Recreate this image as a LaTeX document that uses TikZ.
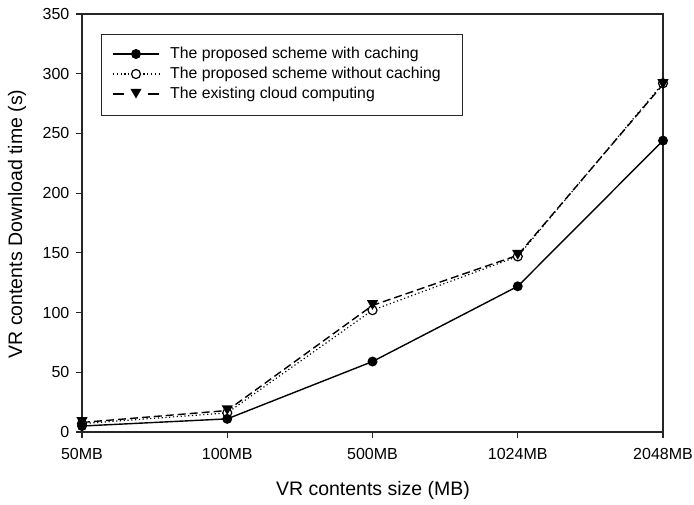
\documentclass[tikz,border=0pt]{standalone}
\usepackage{fontspec}
\setmainfont{Liberation Sans}
\usetikzlibrary{shapes.geometric}
\begin{document}
\begin{tikzpicture}[x=1pt,y=-1pt,
  frame/.style={draw=black!85,line width=1.1pt},
  tick/.style={draw=black!85,line width=1.1pt},
  ticklab/.style={font=\fontsize{16}{16}\selectfont,inner sep=0pt},
  axlab/.style={font=\fontsize{19.5}{19.5}\selectfont,inner sep=0pt},
  leglab/.style={font=\fontsize{15.8}{15.8}\selectfont,inner sep=0pt,anchor=west},
  solidser/.style={line width=1.4pt},
  dotser/.style={line width=1.2pt,dash pattern=on 1.2pt off 2.6pt},
  dashser/.style={line width=1.4pt,dash pattern=on 8pt off 4pt},
  fcirc/.style={circle,fill=black,minimum size=10pt,inner sep=0pt},
  ocirc/.style={circle,draw=black,fill=white,line width=1.2pt,minimum size=9pt,inner sep=0pt},
  dtri/.style={regular polygon,regular polygon sides=3,shape border rotate=180,fill=black,minimum size=13pt,inner sep=0pt},
]
\useasboundingbox (0,0) rectangle (694,504);
% value scale: pixels per second of download time
\def\yv#1{432-1.1943*#1}
% plot frame
\draw[frame] (82,14) rectangle (663,432);
% y ticks and labels
\foreach \v in {0,50,...,350}{
  \draw[tick] (76,{\yv{\v}}) -- (82,{\yv{\v}});
  \node[ticklab,anchor=east] (yt\v) at (69.5,{\yv{\v}}) {\v};
}
% x ticks and labels
\foreach \x/\l [count=\i] in {82/50MB,227.25/100MB,372.5/500MB,517.75/1024MB,663/2048MB}{
  \draw[tick] (\x,432) -- (\x,438);
  \node[ticklab] (xt\i) at (\x,454) {\l};
}
% axis titles
\node[axlab] (xtitle) at (373,490) {VR contents size (MB)};
\node[axlab,rotate=90] (ytitle) at (17,224) {VR contents Download time (s)};
% data points
\foreach \x/\v [count=\i] in {82/5,227.25/11,372.5/59,517.75/122,663/244}
  \coordinate (a\i) at (\x,{\yv{\v}});
\foreach \x/\v [count=\i] in {82/7,227.25/16,372.5/102,517.75/147,663/292}
  \coordinate (b\i) at (\x,{\yv{\v}});
\foreach \x/\v [count=\i] in {82/8,227.25/18,372.5/106,517.75/148,663/291}
  \coordinate (c\i) at (\x,{\yv{\v}});
% series lines
\draw[dotser] (b1) -- (b2) -- (b3) -- (b4) -- (b5);
\draw[dashser] (c1) -- (c2) -- (c3) -- (c4) -- (c5);
\draw[solidser] (a1) -- (a2) -- (a3) -- (a4) -- (a5);
% markers
\foreach \i in {1,...,5}{
  \node[ocirc] (mb\i) at (b\i) {};
  \node[dtri,yshift=2pt] (mc\i) at (c\i) {};
  \node[fcirc] (ma\i) at (a\i) {};
}
% legend
\draw[line width=1pt,draw=black!85] (101,34) rectangle (462,115);
\coordinate (l1a) at (113,54); \coordinate (l1b) at (159,54);
\coordinate (l2a) at (113,74); \coordinate (l2b) at (159,74);
\coordinate (l3a) at (113,94); \coordinate (l3b) at (159,94);
\draw[solidser] (l1a) -- (l1b);
\draw[dotser] (l2a) -- (l2b);
\draw[dashser,dash pattern=on 11pt off 24pt] (l3a) -- (l3b);
\node[fcirc] (lm1) at (136,54) {};
\node[ocirc] (lm2) at (136,74) {};
\node[dtri,yshift=2pt] (lm3) at (136,94) {};
\node[leglab] (lt1) at (170,54) {The proposed scheme with caching};
\node[leglab] (lt2) at (170,74) {The proposed scheme without caching};
\node[leglab] (lt3) at (170,94) {The existing cloud computing};
\end{tikzpicture}
\end{document}
